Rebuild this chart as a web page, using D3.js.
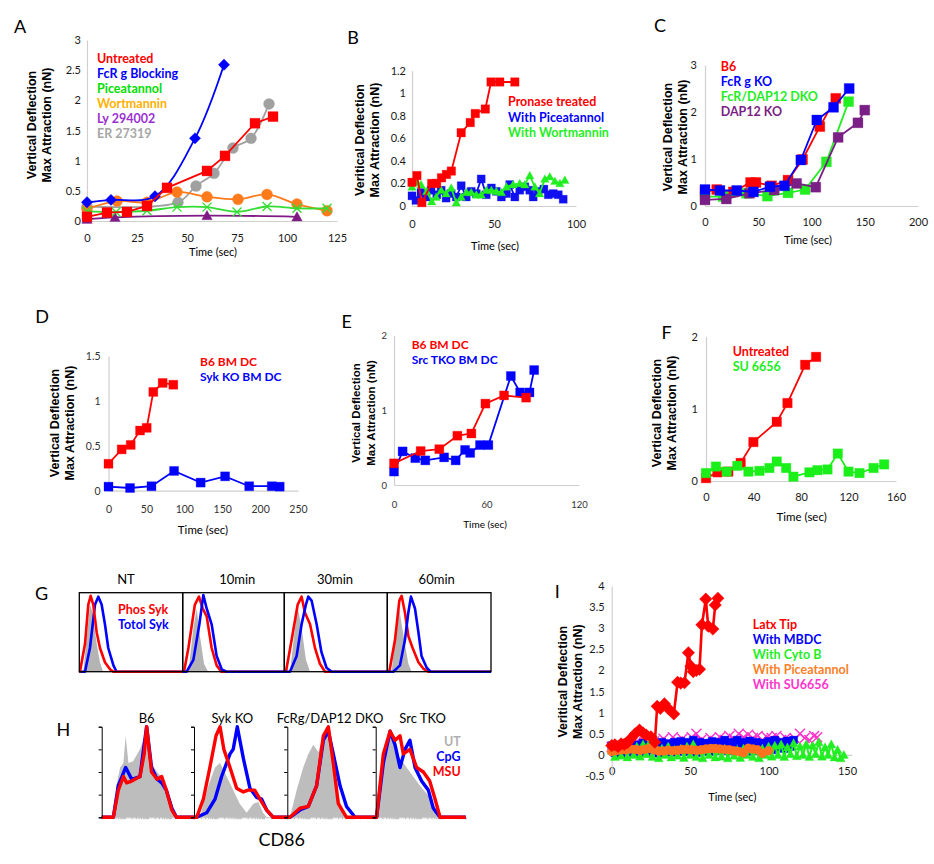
<!DOCTYPE html>
<html>
<head>
<meta charset="utf-8">
<title>Figure</title>
<script src="https://cdn.jsdelivr.net/npm/d3@7"></script>
<style>
  body { margin: 0; background: #fff; }
  text { font-family: Lato, "Open Sans", sans-serif; }
  .ytitle { font-family: "Liberation Sans Narrow", "Arial Narrow", "Liberation Sans", sans-serif; font-weight: bold; }
  .leg { font-weight: bold; }
</style>
</head>
<body>
<svg id="fig" width="934" height="864"></svg>
<script>
// ---------- data: A ----------
var aUntreated = [[0,0.07],[10,0.14],[20,0.15],[30,0.25],[40,0.55],[60,0.83],[69,1.08],[84,1.62],[93,1.73]];
var aFcR = [[0,0.31],[12,0.35],[34,0.41],[54,1.37],[68.5,2.59]];
var aPicea = [[0,0.16],[14.5,0.15],[30,0.17],[45,0.23],[60,0.23],[75,0.15],[90,0.24],[105,0.21],[120,0.21]];
var aWort = [[0,0.2],[15,0.33],[30,0.31],[45,0.48],[60,0.4],[75.5,0.36],[90,0.44],[105,0.28],[120,0.17]];
var aLy = [[0,0.03],[14,0.06],[60,0.09],[105,0.07]];
var aER = [[0,0.24],[45.5,0.31],[54.5,0.58],[63.5,0.79],[73,1.21],[82,1.37],[91,1.94]];
var aLegend = ["Untreated","FcR g Blocking","Piceatannol","Wortmannin","Ly 294002","ER 27319"];

// ---------- data: B ----------
var bPronase = [[0,0.21],[3,0.27],[6,0.03],[12,0.2],[15,0.2],[18,0.25],[21,0.28],[24,0.31],[30,0.65],[35.5,0.74],[38.6,0.82],[44.7,0.86],[48.2,1.1],[53.5,1.1],[62.7,1.1]];
var bPicea = [[0,0.09],[2.4,0.05],[5.5,0.12],[8.6,0.08],[11.6,0.14],[15.1,0.1],[17.8,0.14],[20.8,0.07],[23.9,0.11],[27,0.08],[30,0.18],[33.1,0.08],[36.1,0.13],[39.2,0.11],[42.2,0.24],[45.3,0.1],[48.4,0.16],[51.4,0.13],[54.5,0.08],[57.6,0.11],[59.6,0.19],[62.7,0.08],[65.7,0.14],[68.8,0.17],[71.8,0.14],[73.9,0.08],[76.9,0.13],[80.4,0.15],[83.1,0.1],[86.1,0.11],[89.2,0.1],[92.2,0.06]];
var bWort = [[0,0.17],[2.9,0.21],[5.5,0.19],[9,0.13],[12,0.04],[14.7,0.08],[17.8,0.14],[20.8,0.11],[23.9,0.16],[27,0.03],[30,0.08],[33.1,0.12],[36.1,0.12],[39.2,0.1],[42.2,0.1],[45.3,0.14],[48.4,0.14],[51.4,0.13],[54.5,0.12],[57.6,0.17],[61.6,0.19],[65.7,0.2],[68.8,0.19],[71.8,0.27],[74.9,0.17],[77.8,0.11],[81,0.24],[84,0.26],[87.1,0.22],[90.2,0.2],[93.2,0.23]];
var bLegend = ["Pronase treated","With Piceatannol","With Wortmannin"];

// ---------- data: C ----------
var cB6 = [[0,0.3],[11,0.35],[26.6,0.3],[42.8,0.5],[47.8,0.5],[62.5,0.43],[78,0.55],[91.6,0.99],[107.8,1.69],[122.8,2.29]];
var cFcR = [[0,0.35],[14,0.33],[29.8,0.33],[45.5,0.3],[61,0.41],[74.6,0.43],[90,0.98],[105,1.83],[120.7,2.1],[135.4,2.5]];
var cDKO = [[0,0.2],[17,0.2],[39,0.27],[58.6,0.21],[78,0.28],[94,0.35],[114,0.94],[134.8,2.22]];
var cDAP = [[0,0.13],[20,0.15],[41.7,0.27],[65,0.34],[86,0.48],[104,0.4],[125,1.46],[143.6,1.77],[150,2.04]];
var cLegend = ["B6","FcR g KO","FcR/DAP12 DKO","DAP12 KO"];

// ---------- data: D ----------
var dB6 = [[0,0.3],[17.4,0.46],[29.3,0.51],[41.6,0.67],[50.4,0.7],[59.1,1.1],[71.5,1.2],[85.5,1.18]];
var dSyk = [[0,0.045],[28.4,0.03],[56.7,0.05],[86.5,0.22],[121.6,0.09],[153.8,0.16],[185.6,0.05],[215.4,0.05],[225.9,0.045]];
var dLegend = ["B6 BM DC","Syk KO BM DC"];

// ---------- data: E ----------
var eB6 = [[0,0.29],[17.3,0.455],[29.4,0.48],[41.1,0.66],[50.2,0.69],[59.3,1.09],[71.4,1.2],[85.7,1.17]];
var eSrc = [[0,0.18],[5.6,0.45],[13.8,0.36],[20.3,0.33],[32.5,0.37],[40,0.33],[46.1,0.47],[49.4,0.43],[55.8,0.535],[61.2,0.535],[75.8,1.46],[81.8,1.24],[87.9,1.24],[90.9,1.54]];
var eLegend = ["B6 BM DC","Src TKO BM DC"];

// ---------- data: F ----------
var fUntreated = [[0,0.04],[9.6,0.12],[18.8,0.13],[29.2,0.25],[39.9,0.54],[59.6,0.82],[68.6,1.08],[83.5,1.61],[92.7,1.72]];
var fSU = [[0,0.11],[8.4,0.2],[17.4,0.13],[26.4,0.21],[35.7,0.13],[45,0.14],[53.4,0.18],[59.6,0.27],[67.5,0.18],[73.6,0.06],[87.1,0.12],[93.8,0.15],[102.3,0.16],[111,0.38],[120,0.13],[129.3,0.11],[141.1,0.18],[150,0.23]];
var fLegend = ["Untreated","SU 6656"];

// ---------- data: G (histograms, channel 0-100 per box, fraction of max) ----------
var gTitles = ["NT","10min","30min","60min"];
var gGray = [
  [[3.9,0],[7.7,0.5],[10.3,0.85],[12.9,0.75],[16.8,0.35],[20,0.12],[23,0]],
  [[5.6,0],[10.5,0.55],[13.8,0.8],[17,0.45],[21,0.1],[25,0]],
  [[5.5,0],[10.4,0.55],[12.6,0.85],[16.8,0.55],[21,0.15],[25,0]],
  [[4.2,0],[8.4,0.55],[10.6,0.88],[13.8,0.6],[17,0.35],[20.3,0.1],[23.5,0]]
];
var gRed = [
  [[0.6,0],[5.5,0.35],[8.7,0.85],[11,0.96],[13.5,0.85],[16.8,0.5],[20,0.3],[24.8,0.12],[29.7,0.03],[33,0]],
  [[1.3,0],[5.6,0.3],[12,0.85],[16,0.95],[19.7,0.8],[23.6,0.7],[28.5,0.3],[33.4,0.08],[38,0]],
  [[1.6,0],[7.1,0.4],[13,0.85],[16.8,0.95],[20,0.75],[25,0.6],[29.8,0.3],[34.6,0.1],[39.5,0]],
  [[1.9,0],[7.4,0.4],[11.6,0.9],[13.8,0.96],[17,0.75],[20.3,0.45],[24.4,0.3],[30,0.12],[34.7,0.04],[39.5,0]]
];
var gBlue = [
  [[5.5,0],[10.3,0.3],[15.2,0.85],[18.4,0.95],[21.6,0.85],[24.8,0.6],[28,0.3],[33,0.08],[36,0]],
  [[3.9,0],[10.5,0.15],[16.4,0.6],[20.3,0.97],[23.6,0.8],[28.5,0.6],[33.4,0.2],[38.4,0.03],[43,0]],
  [[5.5,0],[12,0.2],[16.8,0.6],[21,0.85],[23.3,0.95],[26.5,0.9],[31.4,0.6],[36,0.25],[41,0.05],[46,0]],
  [[5.8,0],[12.2,0.08],[17,0.4],[20.3,0.75],[22.8,0.95],[26.7,0.8],[30,0.5],[33,0.2],[38,0.05],[41.8,0]]
];
var gLegend = ["Phos Syk","Totol Syk"];

// ---------- data: H ----------
var hTitles = ["B6","Syk KO","FcRg/DAP12 DKO","Src TKO"];
var hGray = [
  [[12.6,0],[16,0.35],[20,0.55],[23.5,0.6],[26,0.9],[29,0.6],[34,0.62],[41.5,0.75],[48.7,0.95],[54,0.6],[60,0.5],[67,0.42],[72,0.25],[77.6,0.1],[81,0]],
  [[6.4,0],[15.4,0.35],[22.5,0.55],[27.9,0.6],[35,0.45],[42,0.3],[49,0.15],[56.4,0.05],[63.6,0.15],[69,0.17],[74,0.05],[78,0]],
  [[3,0],[10.6,0.3],[18,0.55],[23.8,0.7],[29.4,0.8],[35,0.72],[40.8,0.9],[46.4,1.0],[50.2,0.8],[55.8,0.3],[63.4,0.05],[67,0]],
  [[1,0],[8.5,0.6],[16,0.95],[23.3,0.7],[30.7,0.6],[38,0.5],[49,0.35],[60,0.22],[67.8,0.05],[71.5,0]]
];
var hBlue = [
  [[12.6,0],[18,0.35],[26,0.55],[32.5,0.42],[41.5,0.45],[46,0.8],[48.7,1.0],[54,0.55],[60,0.42],[65,0.38],[70,0.3],[76,0.1],[81,0]],
  [[2.9,0],[13.6,0.05],[22.5,0.2],[29.6,0.45],[38.6,0.7],[42,0.75],[46.4,1.0],[52.9,0.65],[60,0.32],[67,0.22],[72.5,0.2],[77.9,0.08],[85,0]],
  [[3,0],[14.3,0.08],[23.8,0.12],[33.2,0.35],[40.8,0.85],[46.4,0.95],[52,0.7],[59.6,0.35],[67,0.12],[76.6,0]],
  [[1,0],[8.5,0.6],[16,0.95],[21.5,0.8],[27,0.55],[32.6,0.75],[38,0.85],[43.7,0.55],[51,0.4],[58.5,0.3],[64,0.1],[71.5,0]]
];
var hRed = [
  [[12.6,0],[18,0.3],[23.5,0.45],[27,0.38],[32.5,0.4],[41.5,0.45],[46,0.7],[48.7,1.0],[54,0.5],[60,0.42],[65,0.45],[70,0.3],[76,0.08],[81,0]],
  [[2.9,0],[10,0.2],[17,0.55],[23.6,0.9],[27.9,1.0],[32,0.75],[38.6,0.55],[45.7,0.32],[52.9,0.28],[58,0.3],[65,0.3],[70.7,0.2],[77.9,0.08],[85,0]],
  [[3,0],[14.3,0.1],[23.8,0.12],[33.2,0.35],[40.8,0.9],[46.4,1.0],[52,0.6],[57.7,0.15],[67,0]],
  [[1,0],[8.5,0.7],[16,0.95],[21.5,0.85],[27,0.9],[30.7,0.7],[38,0.75],[45.5,0.55],[53,0.5],[60,0.4],[66,0.2],[71.5,0]]
];
var hLegend = ["UT","CpG","MSU"];

// ---------- data: I ----------
var iLatx = [[0,0.22],[2,0.24],[4,0.2],[6,0.26],[8,0.25],[10,0.29],[12.3,0.39],[15,0.5],[17.7,0.59],[20,0.52],[22,0.47],[25,0.43],[27.5,0.3],[29,1.15],[31,1.1],[33.6,1.21],[36,1.1],[39.6,0.97],[42,1.72],[44,1.7],[46.4,1.71],[48.9,2.42],[50.5,2.1],[52,1.97],[54,2.0],[56,2.03],[57.5,3.08],[60,3.69],[61.5,3.05],[64.5,2.98],[66,3.55],[67.7,3.71]];
var iMBDC = [[0,0.22],[2,0.05],[4,0.18],[6,0.02],[8,0.25],[10,0.08],[12,0.2],[14,0.03],[16,0.24],[18,0.1],[20,0.28],[22,0.05],[24,0.22],[26,0.12],[28,0.26],[30,0.04],[32,0.3],[34,0.1],[36,0.27],[38,0.06],[40,0.3],[42,0.12],[44,0.32],[46,0.08],[48,0.3],[50,0.1],[52,0.35],[54,0.05],[56,0.3],[58,0.12],[60,0.28],[62,0.08],[64,0.32],[66,0.1],[68,0.3],[70,0.15],[72,0.35],[74,0.1],[76,0.3],[78,0.12],[80,0.35],[82,0.15],[84,0.3],[86,0.08],[88,0.33],[90,0.12],[92,0.3],[94,0.1],[96,0.28],[98,0.15],[100,0.32],[102,0.12],[104,0.35],[106,0.18],[108,0.3],[110,0.15],[112,0.33],[114,0.2],[116,0.35]];
var iCyto = [[0,0.1],[2,-0.05],[4,0.15],[6,-0.02],[8,0.12],[10,-0.06],[12,0.18],[14,0],[16,0.2],[18,-0.04],[20,0.25],[22,0.02],[24,0.28],[26,-0.05],[28,0.2],[30,-0.08],[32,0.15],[34,0],[36,0.2],[38,-0.06],[40,0.12],[42,-0.02],[44,0.15],[46,-0.07],[48,0.2],[50,0],[52,0.25],[54,-0.05],[56,0.1],[58,-0.08],[60,0.12],[62,0],[64,0.15],[66,-0.06],[68,0.1],[70,-0.04],[72,0.14],[74,-0.08],[76,0.1],[78,-0.02],[80,0.12],[82,-0.07],[84,0.15],[86,0],[88,0.12],[90,-0.05],[92,0.1],[94,-0.08],[96,0.15],[98,0],[100,0.2],[102,-0.04],[104,0.22],[106,0],[108,0.25],[110,-0.05],[112,0.18],[114,0.02],[116,0.28],[118,-0.03],[120,0.2],[122,0],[124,0.25],[126,-0.05],[128,0.22],[130,0.02],[132,0.3],[134,-0.04],[136,0.18],[138,0],[140,0.25],[142,-0.06],[144,0.12],[146,-0.08],[148,0]];
var iPicea = [[0,0.08],[3,0.1],[6,0.12],[9,0.12],[12,0.14],[15,0.13],[18,0.11],[21,0.13],[24,0.15],[27,0.12],[30,0.09],[33,0.09],[36,0.11],[39,0.1],[42,0.11],[45,0.13],[48,0.13],[51,0.12],[54,0.11],[57,0.12],[60,0.14],[63,0.15],[66,0.15],[69,0.14],[72,0.13],[75,0.12],[78,0.1],[81,0.08],[84,0.05],[87,0.16],[90,0.14],[93,0.12],[96,0.04],[100,0.1]];
var iSU = [[0,0.18],[3,0.22],[6,0.15],[9,0.25],[12,0.2],[15,0.28],[18,0.22],[21,0.3],[24,0.25],[27,0.32],[30,0.28],[33,0.38],[36,0.3],[39,0.42],[42,0.32],[45,0.38],[48,0.3],[51,0.42],[54,0.5],[57,0.35],[60,0.3],[63,0.4],[66,0.33],[69,0.42],[72,0.35],[75,0.45],[78,0.38],[81,0.5],[84,0.42],[87,0.48],[90,0.4],[93,0.45],[96,0.35],[99,0.42],[102,0.4],[105,0.45],[108,0.35],[111,0.4],[114,0.32],[117,0.38],[120,0.5],[123,0.4],[126,0.35],[129,0.45],[131,0.42]];
var iLegend = ["Latx Tip","With MBDC","With Cyto B","With Piceatannol","With SU6656"];

// ---------- drawing ----------
var svg = d3.select("#fig");
svg.append("rect").attr("width", 934).attr("height", 864).attr("fill", "#fff");

function markerPath(type, s) {
  var h = s / 2;
  if (type == "square") return "M" + (-h) + "," + (-h) + "H" + h + "V" + h + "H" + (-h) + "Z";
  if (type == "diamond") return "M0," + (-h * 1.2) + "L" + (h * 1.2) + ",0L0," + (h * 1.2) + "L" + (-h * 1.2) + ",0Z";
  if (type == "triangle") return "M0," + (-h) + "L" + h + "," + (h * 0.8) + "L" + (-h) + "," + (h * 0.8) + "Z";
  if (type == "x") return "M" + (-h) + "," + (-h) + "L" + h + "," + h + "M" + h + "," + (-h) + "L" + (-h) + "," + h;
  return d3.symbol(d3.symbolCircle, Math.PI * h * h)();
}

function letter(t, x, y) {
  svg.append("text").attr("x", x).attr("y", y).attr("dy", "0.35em")
    .attr("text-anchor", "middle").attr("font-size", 18).attr("fill", "#000").text(t);
}

function yTitle(cx, cy, lines, fs) {
  var g = svg.append("g").attr("transform", "translate(" + cx + "," + cy + ") rotate(-90)");
  lines.forEach(function(l, i) {
    g.append("text").attr("class", "ytitle").attr("text-anchor", "middle")
      .attr("y", (i - 0.5) * 15).attr("dy", "0.35em").attr("font-size", fs).text(l);
  });
}

function label(t, x, y, fs, anchor, color, cls) {
  svg.append("text").attr("x", x).attr("y", y).attr("dy", "0.35em")
    .attr("text-anchor", anchor || "middle").attr("font-size", fs)
    .attr("fill", color || "#000").attr("class", cls || null).text(t);
}

function legend(names, colors, x, y, dy, fs, anchor) {
  names.forEach(function(n, i) {
    label(n, x, y + i * dy, fs, anchor || "start", colors[i], "leg");
  });
}

function xyPanel(p, series) {
  var x = d3.scaleLinear().domain(p.xd).range([p.left, p.right]);
  var y = d3.scaleLinear().domain(p.yd).range([p.bottom, p.top]);
  var g = svg.append("g");
  var xAxis = g.append("g").attr("transform", "translate(0," + y(p.xAt == null ? p.yd[0] : p.xAt) + ")")
    .call(d3.axisBottom(x).tickValues(p.xt).tickSize(0).tickPadding(p.xpad).tickFormat(String));
  var yAxis = g.append("g").attr("transform", "translate(" + p.left + ",0)")
    .call(d3.axisLeft(y).tickValues(p.yt).tickSize(0).tickPadding(p.ypad).tickFormat(String));
  [xAxis, yAxis].forEach(function(a) {
    a.attr("font-family", null).attr("font-size", p.fs);
    a.select(".domain").attr("stroke", "#cfcfcf").attr("stroke-width", 1.2);
    a.selectAll(".tick text").attr("fill", p.tickColor || "#1a1a1a");
  });
  series.forEach(function(s) {
    var line = d3.line().x(function(d) { return x(d[0]); }).y(function(d) { return y(d[1]); })
      .curve(s.curve || d3.curveLinear);
    g.append("path").datum(s.data).attr("d", line).attr("fill", "none")
      .attr("stroke", s.color).attr("stroke-width", s.lw || 1.8);
    g.selectAll(null).data(s.data).enter().append("path")
      .attr("transform", function(d) { return "translate(" + x(d[0]) + "," + y(d[1]) + ")"; })
      .attr("d", markerPath(s.marker, s.size))
      .attr("fill", s.marker == "x" ? "none" : s.color)
      .attr("stroke", s.color).attr("stroke-width", s.marker == "x" ? 1.4 : 0.3);
  });
}

var RED = "#ff0000", BLUE = "#0000ff", GREEN = "#22ee22", PURPLE = "#7a1f85";

// ---- A ----
letter("A", 20, 27);
xyPanel({left: 87, right: 337, top: 40, bottom: 221, xd: [0, 125], yd: [0, 3],
  xt: [0, 25, 50, 75, 100, 125], yt: [0, 0.5, 1, 1.5, 2, 2.5, 3], xpad: 13, ypad: 6, fs: 11}, [
  {data: aER, color: "#a0a0a0", marker: "circle", size: 11, curve: d3.curveCatmullRom},
  {data: aLy, color: "#7f1a85", marker: "triangle", size: 10.5, curve: d3.curveCatmullRom},
  {data: aWort, color: "#ff7a1a", marker: "circle", size: 11, curve: d3.curveCatmullRom},
  {data: aPicea, color: "#33dd33", marker: "x", size: 9, curve: d3.curveCatmullRom},
  {data: aFcR, color: BLUE, marker: "diamond", size: 9.5, curve: d3.curveCatmullRom},
  {data: aUntreated, color: RED, marker: "square", size: 10}
]);
yTitle(39.5, 125, ["Vertical Deflection", "Max Attraction (nN)"], 12.5);
label("Time (sec)", 213, 252, 11);
legend(aLegend, [RED, BLUE, "#00e000", "#ffb000", "#9b30d0", "#a6a6a6"], 97, 58.3, 15, 12.5);

// ---- B ----
letter("B", 353, 38);
xyPanel({left: 412, right: 576, top: 70.7, bottom: 206, xd: [0, 100], yd: [0, 1.2],
  xt: [0, 50, 100], yt: [0, 0.2, 0.4, 0.6, 0.8, 1, 1.2], xpad: 14, ypad: 6, fs: 11}, [
  {data: bPicea, color: "#1010f0", marker: "square", size: 8},
  {data: bWort, color: GREEN, marker: "triangle", size: 8.5},
  {data: bPronase, color: RED, marker: "square", size: 8.5}
]);
yTitle(367.5, 140, ["Veritical Deflection", "Max Attraction (nN)"], 12.5);
label("Time (sec)", 495, 246, 11);
legend(bLegend, [RED, BLUE, GREEN], 508, 102, 15.5, 12.5);

// ---- C ----
letter("C", 660, 26);
xyPanel({left: 705, right: 918, top: 65, bottom: 206, xd: [0, 200], yd: [0, 3],
  xt: [0, 50, 100, 150, 200], yt: [0, 1, 2, 3], xpad: 12.5, ypad: 8, fs: 11}, [
  {data: cB6, color: RED, marker: "square", size: 10},
  {data: cDKO, color: GREEN, marker: "square", size: 10},
  {data: cDAP, color: PURPLE, marker: "square", size: 10},
  {data: cFcR, color: BLUE, marker: "square", size: 10}
]);
yTitle(675.5, 137, ["Vertical Deflection", "Max Attraction (nN)"], 12.5);
label("Time (sec)", 808, 240, 11);
legend(cLegend, [RED, BLUE, GREEN, PURPLE], 720.7, 67, 15, 12.5);

// ---- D ----
letter("D", 42, 317);
xyPanel({left: 108.5, right: 298, top: 356, bottom: 490.7, xd: [0, 250], yd: [0, 1.5],
  xt: [0, 50, 100, 150, 200, 250], yt: [0, 0.5, 1, 1.5], xpad: 15, ypad: 8, fs: 10.5, tickColor: "#333"}, [
  {data: dSyk, color: BLUE, marker: "square", size: 9},
  {data: dB6, color: RED, marker: "square", size: 9}
]);
yTitle(62.5, 423, ["Vertical Deflection", "Max Attraction (nN)"], 12.5);
label("Time (sec)", 203, 530, 11.5);
legend(dLegend, [RED, BLUE], 200, 362, 15, 12);

// ---- E ----
letter("E", 346.7, 321.7);
xyPanel({left: 394, right: 579, top: 335.7, bottom: 485, xd: [0, 120], yd: [0, 2],
  xt: [0, 60, 120], yt: [0, 1, 2], xpad: 16, ypad: 7, fs: 9.5, tickColor: "#333"}, [
  {data: eSrc, color: BLUE, marker: "square", size: 9},
  {data: eB6, color: RED, marker: "square", size: 9}
]);
yTitle(363, 413, ["Vertical Deflection", "Max Attraction (nN)"], 11.5);
label("Time (sec)", 485, 524, 10);
legend(eLegend, [RED, BLUE], 411.7, 345, 14.5, 12);

// ---- F ----
letter("F", 666.7, 333);
xyPanel({left: 706, right: 896, top: 336.7, bottom: 481, xd: [0, 160], yd: [0, 2],
  xt: [0, 40, 80, 120, 160], yt: [0, 1, 2], xpad: 12.5, ypad: 8, fs: 11}, [
  {data: fUntreated, color: RED, marker: "square", size: 9.5},
  {data: fSU, color: "#1aef1a", marker: "square", size: 9.5}
]);
yTitle(664.5, 413, ["Vertical Deflection", "Max Attraction (nN)"], 12.5);
label("Time (sec)", 801.7, 516.7, 11.5);
legend(fLegend, [RED, "#1aef1a"], 732.7, 351.7, 15, 12.5);

// ---- G ----
letter("G", 41.7, 593.3);
var gEdges = [79.3, 182.7, 284.3, 387.3, 491];
var gTop = 592.7, gBottom = 671.7;
var gTitleX = [126, 237.3, 335, 436.7];
var gRedOnTop = [true, false, false, false];
gTitles.forEach(function(t, i) {
  var x = d3.scaleLinear().domain([0, 100]).range([gEdges[i], gEdges[i + 1]]);
  var y = d3.scaleLinear().domain([0, 1]).range([gBottom, gTop]);
  var area = d3.area().x(function(d) { return x(d[0]); }).y0(gBottom).y1(function(d) { return y(d[1]); });
  var line = d3.line().x(function(d) { return x(d[0]); }).y(function(d) { return y(d[1]); });
  svg.append("path").datum(gGray[i]).attr("d", area).attr("fill", "#b4b4b4");
  var order = gRedOnTop[i] ? [[gBlue[i], BLUE], [gRed[i], RED]] : [[gRed[i], RED], [gBlue[i], BLUE]];
  order.forEach(function(o) {
    svg.append("path").datum([[0, 0]].concat(o[0], [[100, 0]])).attr("d", line)
      .attr("fill", "none").attr("stroke", o[1]).attr("stroke-width", 2.6).attr("stroke-linejoin", "round");
  });
  svg.append("rect").attr("x", gEdges[i]).attr("y", gTop).attr("width", gEdges[i + 1] - gEdges[i])
    .attr("height", gBottom - gTop).attr("fill", "none").attr("stroke", "#000").attr("stroke-width", 1.3);
  label(t, gTitleX[i], 579, 13);
});
legend(gLegend, [RED, BLUE], 118, 610, 15, 12.5);

// ---- H ----
letter("H", 63.3, 730);
var hEdges = [101.7, 194, 287.3, 375.7, 465.7];
var hTop = 726.7, hBottom = 817.3;
var hTitleX = [146.7, 232.3, 330, 422.7];
hTitles.forEach(function(t, i) {
  var x = d3.scaleLinear().domain([0, 100]).range([hEdges[i], hEdges[i + 1]]);
  var y = d3.scaleLinear().domain([0, 1]).range([hBottom, hTop]);
  var area = d3.area().x(function(d) { return x(d[0]); }).y0(hBottom).y1(function(d) { return y(d[1]); });
  var line = d3.line().x(function(d) { return x(d[0]); }).y(function(d) { return y(d[1]); });
  var lx = d3.scaleLog().domain([10, 100000]).range([hEdges[i], hEdges[i + 1]]);
  svg.append("g").attr("transform", "translate(0," + hBottom + ")")
    .call(d3.axisBottom(lx).tickSize(2).tickFormat(""))
    .call(function(a) { a.selectAll("line, path").attr("stroke", "#9a9a9a").attr("stroke-width", 0.6); });
  svg.append("path").datum(hGray[i]).attr("d", area).attr("fill", "#bdbdbd");
  [[hBlue[i], BLUE], [hRed[i], RED]].forEach(function(o) {
    svg.append("path").datum([[0, 0]].concat(o[0], [[100, 0]])).attr("d", line)
      .attr("fill", "none").attr("stroke", o[1]).attr("stroke-width", 3.4).attr("stroke-linejoin", "round");
  });
  svg.append("g").attr("transform", "translate(" + hEdges[i] + ",0)")
    .call(d3.axisLeft(y).tickValues([0, 0.25, 0.5, 0.75, 1]).tickSize(3).tickFormat(""))
    .call(function(a) { a.selectAll("line, path").attr("stroke", "#000").attr("stroke-width", 1); });
  label(t, hTitleX[i], 718.3, 13);
});
legend(hLegend, ["#b0b0b0", BLUE, RED], 460.7, 741.7, 15, 12.5, "end");
label("CD86", 281.7, 840, 18);

// ---- I ----
letter("I", 557.3, 591.7);
xyPanel({left: 611.7, right: 851.7, top: 586, bottom: 776, xd: [0, 153], yd: [-0.5, 4], xAt: 0,
  xt: [0, 50, 100, 150], yt: [-0.5, 0, 0.5, 1, 1.5, 2, 2.5, 3, 3.5, 4], xpad: 12, ypad: 7, fs: 11}, [
  {data: iSU, color: "#ff33cc", marker: "x", size: 10, lw: 1.3},
  {data: iMBDC, color: BLUE, marker: "square", size: 8, lw: 2},
  {data: iCyto, color: GREEN, marker: "triangle", size: 9, lw: 2},
  {data: iPicea, color: "#ff7020", marker: "circle", size: 9, lw: 1.5},
  {data: iLatx, color: RED, marker: "diamond", size: 10.5, lw: 2.6}
]);
yTitle(569.7, 681.7, ["Veritical Deflection", "Max Attraction (nN)"], 12.5);
label("Time (sec)", 732.3, 796.7, 11);
legend(iLegend, [RED, BLUE, GREEN, "#ff7f27", "#ff33cc"], 752.7, 625, 15, 12.5);
</script>
</body>
</html>
